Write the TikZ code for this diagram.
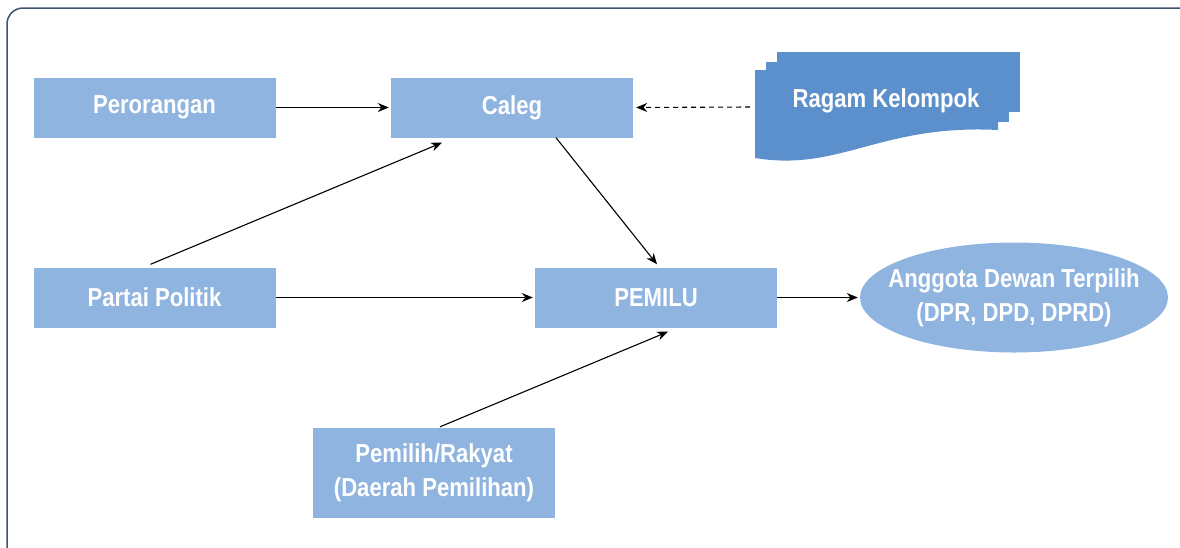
\documentclass[tikz,border=0pt]{standalone}
\usepackage{fontspec}
\newfontfamily\nar{Liberation Sans}[FakeStretch=0.85]
\usetikzlibrary{arrows.meta,shapes.geometric}
\definecolor{lb}{HTML}{8FB4E0}
\definecolor{db}{HTML}{5B90CC}
\definecolor{fr}{HTML}{3F5170}
\tikzset{
  txt/.style={text=white,font=\nar\bfseries\fontsize{26}{34}\selectfont,align=center},
  box/.style={txt,fill=lb,draw=none,minimum width=242pt,minimum height=60pt,inner sep=0pt},
  arr/.style={-{Stealth[length=11pt,width=9pt]},line width=1.1pt,black},
}
\begin{document}
\begin{tikzpicture}[x=1pt,y=-1pt]
\useasboundingbox (0,0) rectangle (1180,547);
\draw[fr,line width=1.5pt,rounded corners=16pt] (7,8) rectangle (1200,562);
% Ragam Kelompok multi-document
\fill[db] (777,52) rectangle (1020,112);
\fill[db] (766,62) rectangle (1009,122);
\fill[db] (755,70) -- (998,70) -- (998,130) .. controls (880,124) and (840,172) .. (755,158) -- cycle;
\node[txt] (rag) at (886,101) {Ragam Kelompok};
\coordinate (ragL) at (750,107);
\node[box] (per) at (154.5,107.5) {Perorangan};
\node[box] (cal) at (512,107.5) {Caleg};
\node[box] (par) at (154.5,297.5) {Partai Politik};
\node[box] (pem) at (656,297.5) {PEMILU};
\node[box,minimum height=90pt] (pil) at (434,473) {Pemilih/Rakyat\\(Daerah Pemilihan)};
\node[ellipse,fill=lb,minimum width=308pt,minimum height=110pt,inner sep=0pt,
  label={[txt]center:Anggota Dewan Terpilih\\(DPR, DPD, DPRD)}] (agg) at (1014,297.5) {};
\draw[arr] (per.east) -- ([xshift=-2pt]cal.west);
\draw[arr,dashed,dash pattern=on 5pt off 4pt] (ragL) -- ([xshift=3pt]cal.east);
\draw[arr] ([xshift=-4pt,yshift=3pt]par.north) -- ([xshift=-70pt,yshift=-5pt]cal.south);
\draw[arr] ([xshift=44pt]cal.south) -- ([xshift=1pt,yshift=3pt]pem.north);
\draw[arr] (par.east) -- ([xshift=-2pt]pem.west);
\draw[arr] ([xshift=6pt,yshift=1pt]pil.north) -- ([xshift=12pt,yshift=-4pt]pem.south);
\draw[arr] (pem.east) -- ([xshift=-2pt]agg.west);
\end{tikzpicture}
\end{document}
